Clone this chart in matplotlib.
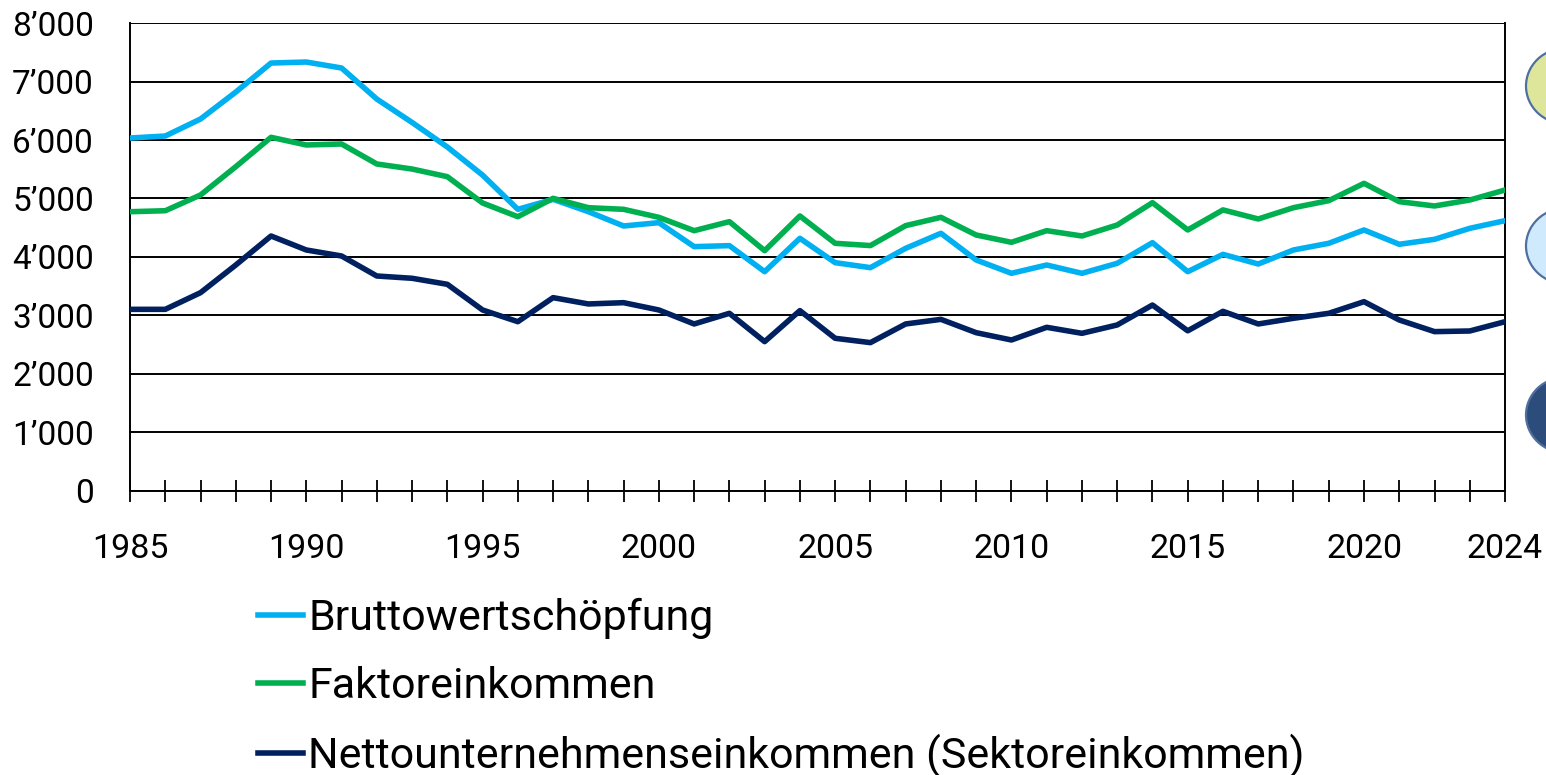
import matplotlib
matplotlib.use("Agg")
import matplotlib.pyplot as plt
from matplotlib.patches import Ellipse
from matplotlib.ticker import FuncFormatter

plt.rcParams['font.family'] = ['Roboto', 'DejaVu Sans']

# Werte in Mio. Fr.
jahre = list(range(1985, 2025))

brutto = [6034, 6068, 6359, 6820, 7316, 7333, 7231, 6700, 6300, 5880, 5400, 4815,
          4986, 4775, 4530, 4587, 4177, 4194, 3749, 4319, 3903, 3818, 4148, 4405,
          3949, 3721, 3863, 3721, 3892, 4245, 3749, 4045, 3880, 4120, 4234, 4462,
          4217, 4302, 4490, 4621]

faktor = [4774, 4791, 5060, 5544, 6046, 5915, 5932, 5590, 5504, 5373, 4923, 4689,
          5003, 4843, 4815, 4678, 4450, 4604, 4108, 4701, 4234, 4195, 4536, 4678,
          4376, 4251, 4450, 4359, 4547, 4929, 4462, 4805, 4650, 4843, 4963, 5259,
          4946, 4872, 4974, 5145]

netto = [3105, 3105, 3390, 3863, 4359, 4120, 4017, 3675, 3636, 3533, 3094, 2894,
         3305, 3197, 3219, 3094, 2855, 3037, 2553, 3083, 2610, 2536, 2855, 2934,
         2706, 2581, 2798, 2695, 2838, 3179, 2738, 3071, 2855, 2952, 3037, 3236,
         2923, 2724, 2735, 2894]

labels = ["Bruttowertschöpfung", "Faktoreinkommen",
          "Nettounternehmenseinkommen (Sektoreinkommen)"]
farben = ["#00b0f0", "#00b050", "#002060"]

xticks = [1985, 1990, 1995, 2000, 2005, 2010, 2015, 2020, 2024]
yticks = list(range(0, 8001, 1000))

fig = plt.figure(figsize=(15.46, 7.75), dpi=100)
ax = fig.add_axes([0.0841, 0.3665, 0.8894, 0.6038])

for serie, lab, col in zip([brutto, faktor, netto], labels, farben):
    ax.plot(jahre, serie, color=col, lw=4.0, label=lab, zorder=3)

ax.set_xlim(1985, 2024)
ax.set_ylim(0, 8000)
ax.set_yticks(yticks)
ax.yaxis.set_major_formatter(FuncFormatter(
    lambda v, p: "0" if v == 0 else f"{int(v):,}".replace(",", "’")))
ax.grid(axis='y', color='black', lw=1.4, zorder=1)
ax.tick_params(axis='y', length=0, pad=26, labelsize=24)

ax.set_xticks(jahre, minor=True)
ax.set_xticks(xticks)
ax.set_xticklabels([str(j) for j in xticks])
ax.tick_params(axis='x', which='both', direction='inout', length=16,
               width=1.3, labelsize=24.5, pad=22)

for s in ['left', 'right', 'bottom', 'top']:
    ax.spines[s].set_linewidth(1.4)
ax.spines['top'].set_visible(False)

leg = fig.legend(loc='upper left', bbox_to_anchor=(0.153, 0.2565),
                 frameon=False, fontsize=31, handlelength=1.04,
                 handletextpad=0.12, labelspacing=0.63, borderpad=0)
for ln in leg.get_lines():
    ln.set_linewidth(4)

# angeschnittene Ellipsen rechts
ell_y = [86, 246, 415]
ell_farben = ["#dde69b", "#cfeafc", "#2c4c7c"]
for yy, fc in zip(ell_y, ell_farben):
    e = Ellipse((1566 / 1546, 1 - yy / 775), 80 / 1546, 76 / 775,
                transform=fig.transFigure, facecolor=fc, edgecolor="#4f6f9f",
                lw=1.6, clip_on=False)
    fig.add_artist(e)

fig.savefig("out.png", dpi=100)
